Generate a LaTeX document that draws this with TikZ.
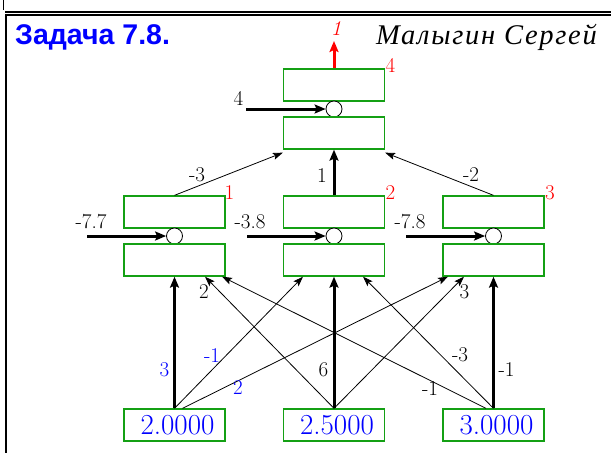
\documentclass[tikz,border=0pt]{standalone}
\usepackage{fontspec}
\newfontfamily\titlefont{Liberation Sans}
\newfontfamily\namefont[LetterSpace=6]{Liberation Serif}
\usetikzlibrary{arrows.meta}
\definecolor{boxgreen}{RGB}{20,160,20}
\definecolor{tblue}{RGB}{0,0,255}
\definecolor{tred}{RGB}{255,0,0}
\begin{document}
\begin{tikzpicture}[x=1pt,y=-1pt,
  box/.style={draw=boxgreen, line width=1.3pt, minimum width=101pt, minimum height=32pt, inner sep=0pt},
  sumnode/.style={draw=black, circle, minimum size=16pt, inner sep=0pt, line width=0.8pt, fill=white},
  conn/.style={line width=0.8pt, -{Stealth[length=10pt,width=7pt,inset=2pt]}},
  thickconn/.style={line width=3pt, -{Stealth[length=11pt,width=9pt,inset=2pt]}},
  lab/.style={font=\fontsize{21}{21}\selectfont, inner sep=0pt},
  blab/.style={lab, text=tblue},
  rlab/.style={lab, text=tred},
  inbox/.style={box, font=\fontsize{29}{29}\selectfont, text=tblue},
]
\useasboundingbox (0,0) rectangle (611,453);
% frame
\draw[line width=1.3pt] (3.3,0) -- (3.3,10);
\draw[line width=2pt] (5,12) -- (611,12);
\draw[line width=2pt] (5,15) -- (611,15);
\draw[line width=2.3pt] (6.2,14) -- (6.2,453);
% titles
\node[anchor=base west, inner sep=0pt, text=tblue, font=\titlefont\bfseries\fontsize{28.5}{28.5}\selectfont] (title) at (15,44) {Задача 7.8.};
\node[anchor=base east, inner sep=0pt, font=\namefont\itshape\fontsize{28.5}{28.5}\selectfont] (author) at (597,44) {Малыгин Сергей};
% output neuron
\node[box] (ou) at (334,85) {};
\node[sumnode] (oc) at (334,109) {};
\node[box] (ol) at (334,133) {};
% hidden neurons
\foreach \n/\x in {1/174.5, 2/334, 3/493.5} {
  \node[box] (h\n u) at (\x,212) {};
  \node[sumnode] (h\n c) at (\x,236) {};
  \node[box] (h\n l) at (\x,260) {};
}
% inputs
\node[inbox] (i1) at (174.5,425) {\hspace*{6pt}2.0000};
\node[inbox] (i2) at (334,425) {\hspace*{6pt}2.5000};
\node[inbox] (i3) at (493.5,425) {\hspace*{6pt}3.0000};
% output arrow
\coordinate (otip) at (334,41);
\draw[line width=3pt, draw=tred, -{Stealth[length=11pt,width=9pt,inset=2pt]}] (ou.north) -- (otip);
\node[rlab, font=\itshape\fontsize{21}{21}\selectfont] (oname) at (336,29) {1};
\node[rlab] (n4) at (390.5,65.5) {4};
\node[rlab] (n1) at (229.5,192.5) {1};
\node[rlab] (n2) at (390.5,192.5) {2};
\node[rlab] (n3) at (550,192.5) {3};
% biases
\coordinate (bo) at (246,109);
\coordinate (b1) at (87,236);
\coordinate (b2) at (247,236);
\coordinate (b3) at (406,236);
\draw[thickconn] (bo) -- (oc.west);
\draw[thickconn] (b1) -- (h1c.west);
\draw[thickconn] (b2) -- (h2c.west);
\draw[thickconn] (b3) -- (h3c.west);
\node[lab] (lbo) at (238.5,98) {4};
\node[lab] (lb1) at (91,222) {-7.7};
\node[lab] (lb2) at (250,222) {-3.8};
\node[lab] (lb3) at (410,222) {-7.8};
% hidden -> output
\draw[conn] (h1u.north) -- ([yshift=-3pt]ol.south west);
\draw[thickconn] (h2u.north) -- (ol.south);
\draw[conn] (h3u.north) -- ([yshift=-3pt]ol.south east);
\node[lab] (w1) at (197,175) {-3};
\node[lab] (w2) at (322,176) {1};
\node[lab] (w3) at (471,175) {-2};
% inputs -> hidden
\draw[thickconn] (i1.north) -- (h1l.south);
\draw[conn] (i1.north) -- ([xshift=-31pt]h2l.south);
\draw[conn] ([xshift=8pt]i1.north) -- ([xshift=-45.5pt]h3l.south);
\draw[conn] (i2.north) -- ([xshift=30.5pt]h1l.south);
\draw[thickconn] (i2.north) -- (h2l.south);
\draw[conn] (i2.north) -- ([xshift=-29.5pt]h3l.south);
\draw[conn] ([xshift=-7.5pt]i3.north) -- ([xshift=47.5pt]h1l.south);
\draw[conn] (i3.north) -- ([xshift=29pt]h2l.south);
\draw[thickconn] (i3.north) -- (h3l.south);
\node[blab] (v11) at (164.5,370) {3};
\node[blab] (v12) at (212,356) {-1};
\node[blab] (v13) at (238,388) {2};
\node[lab] (v21) at (204,292) {2};
\node[lab] (v22) at (323.5,370) {6};
\node[lab] (v23) at (464.5,292) {3};
\node[lab] (v31) at (430,389) {-1};
\node[lab] (v32) at (460,355) {-3};
\node[lab] (v33) at (506.5,370) {-1};
\end{tikzpicture}
\end{document}
